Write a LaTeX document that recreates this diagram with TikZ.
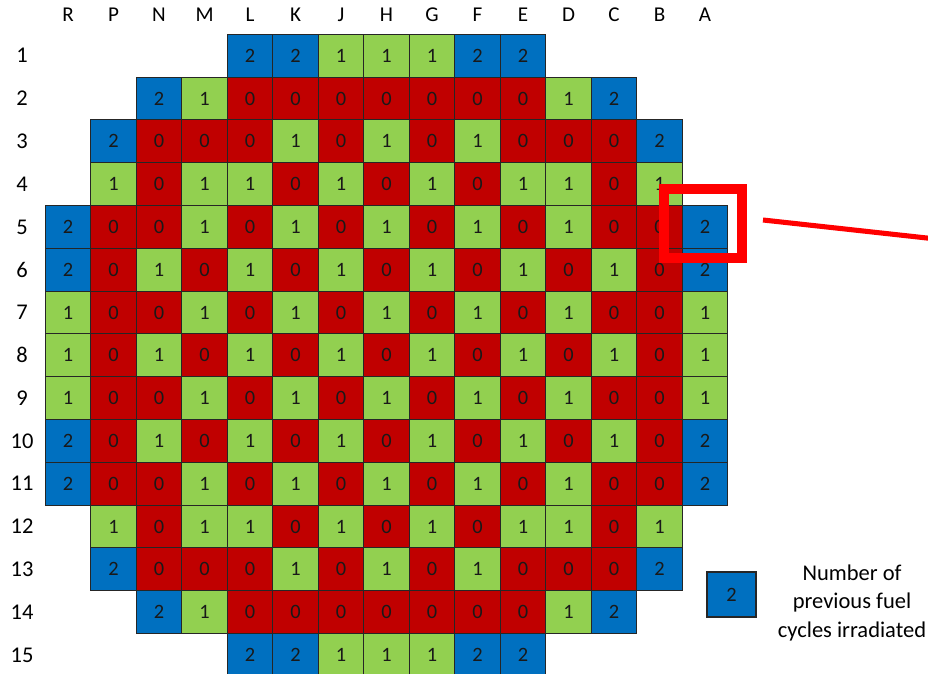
\documentclass[tikz,border=0pt]{standalone}
\usepackage{fontspec}
\setmainfont{Carlito}
\usepackage{xcolor}
\usepackage{tikz}
\usetikzlibrary{positioning}

\definecolor{cyc0}{RGB}{192,0,0}
\definecolor{cyc1}{RGB}{146,208,80}
\definecolor{cyc2}{RGB}{0,112,192}

\begin{document}
\begin{tikzpicture}[
  x=0.025cm, y=-0.025cm,
  font=\fontsize{14.5}{17}\selectfont,
  cell/.style={draw=black!85, line width=0.8pt, fill=cyc#1, minimum width=1.1375cm, minimum height=1.07cm, inner sep=0pt, text=black!90},
  collab/.style={font=\fontsize{15}{17}\selectfont, text=black},
  rowlab/.style={font=\fontsize{16}{18}\selectfont, text=black},
  zoombox/.style={draw=red, line width=7pt, minimum width=1.95cm, minimum height=1.725cm, inner sep=0pt},
  pointer/.style={draw=red, line width=3.6pt},
  keytext/.style={align=center, font=\fontsize{16}{20.6}\selectfont, text=black}
]
\useasboundingbox (0,0) rectangle (928,674);

\foreach \l [count=\c] in {R,P,N,M,L,K,J,H,G,F,E,D,C,B,A}
  \node[collab] (Col\l) at (22.55+45.5*\c, 15) {\l};
\foreach \r in {1,...,15}
  \node[rowlab] (Row\r) at (22, 12.9+42.8*\r) {\r};

\foreach \r/\first/\vals in {
  1/5/{2,2,1,1,1,2,2},
  2/3/{2,1,0,0,0,0,0,0,0,1,2},
  3/2/{2,0,0,0,1,0,1,0,1,0,0,0,2},
  4/2/{1,0,1,1,0,1,0,1,0,1,1,0,1},
  5/1/{2,0,0,1,0,1,0,1,0,1,0,1,0,0,2},
  6/1/{2,0,1,0,1,0,1,0,1,0,1,0,1,0,2},
  7/1/{1,0,0,1,0,1,0,1,0,1,0,1,0,0,1},
  8/1/{1,0,1,0,1,0,1,0,1,0,1,0,1,0,1},
  9/1/{1,0,0,1,0,1,0,1,0,1,0,1,0,0,1},
  10/1/{2,0,1,0,1,0,1,0,1,0,1,0,1,0,2},
  11/1/{2,0,0,1,0,1,0,1,0,1,0,1,0,0,2},
  12/2/{1,0,1,1,0,1,0,1,0,1,1,0,1},
  13/2/{2,0,0,0,1,0,1,0,1,0,0,0,2},
  14/3/{2,1,0,0,0,0,0,0,0,1,2},
  15/5/{2,2,1,1,1,2,2}}
  \foreach \v [count=\c from \first] in \vals
    \node[cell=\v] (Pos\r-\c) at (22.55+45.5*\c, 12.9+42.8*\r) {\v};

\node[zoombox] (Zoom) at (703,223.5) {};
\coordinate (PointerStart) at (763,220);
\coordinate (PointerEnd) at (945,240);
\draw[pointer] (PointerStart) -- (PointerEnd);

\node[cell=2, minimum width=1.225cm, minimum height=1.125cm] (Key) at (731.5,594.5) {2};
\node[keytext] (KeyText) at (852,603) {Number of\\previous fuel\\cycles irradiated};
\end{tikzpicture}
\end{document}
